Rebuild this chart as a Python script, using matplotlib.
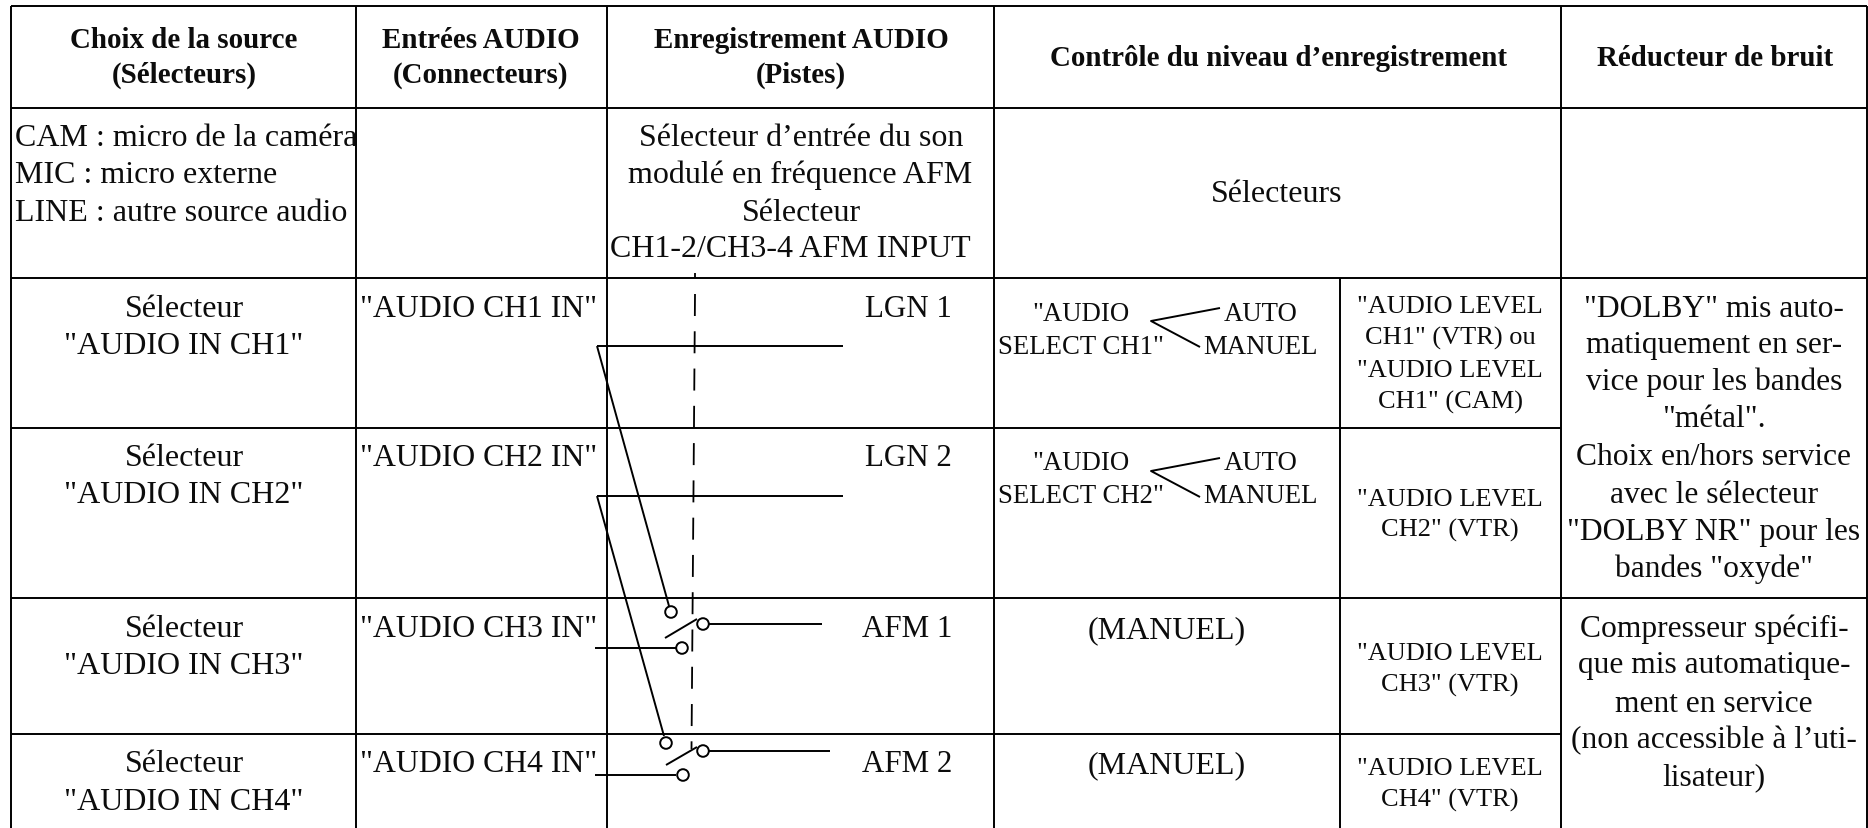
import matplotlib
matplotlib.use("Agg")
import matplotlib.pyplot as plt
from matplotlib.patches import Circle

plt.rcParams['font.family'] = ['Liberation Serif', 'DejaVu Serif']
plt.rcParams['lines.scale_dashes'] = False

# ---- text content
headers = [["Choix de la source", "(Sélecteurs)"], ["Entrées AUDIO", "(Connecteurs)"],
           ["Enregistrement AUDIO", "(Pistes)"], ["Contrôle du niveau d’enregistrement"],
           ["Réducteur de bruit"]]
source_notes = ["CAM : micro de la caméra", "MIC : micro externe", "LINE : autre source audio"]
afm_selector = ["Sélecteur d’entrée du son", "modulé en fréquence AFM", "Sélecteur", "CH1-2/CH3-4 AFM INPUT"]
selectors_label = "Sélecteurs"
source_selectors = [['Sélecteur', '"AUDIO IN CH1"'], ['Sélecteur', '"AUDIO IN CH2"'],
                    ['Sélecteur', '"AUDIO IN CH3"'], ['Sélecteur', '"AUDIO IN CH4"']]
connectors = ['"AUDIO CH1 IN"', '"AUDIO CH2 IN"', '"AUDIO CH3 IN"', '"AUDIO CH4 IN"']
tracks = ["LGN 1", "LGN 2", "AFM 1", "AFM 2"]
levels = [['"AUDIO LEVEL', 'CH1" (VTR) ou', '"AUDIO LEVEL', 'CH1" (CAM)'],
          ['"AUDIO LEVEL', 'CH2" (VTR)'], ['"AUDIO LEVEL', 'CH3" (VTR)'], ['"AUDIO LEVEL', 'CH4" (VTR)']]
select_labels = [['"AUDIO', 'SELECT CH1"'], ['"AUDIO', 'SELECT CH2"']]
auto_manuel = ["AUTO", "MANUEL"]
manual = "(MANUEL)"
nr_text = [['"DOLBY" mis auto-', 'matiquement en ser-', 'vice pour les bandes', '"métal".',
            'Choix en/hors service', 'avec le sélecteur', '"DOLBY NR" pour les', 'bandes "oxyde"'],
           ['Compresseur spécifi-', 'que mis automatique-', 'ment en service',
            '(non accessible à l’uti-', 'lisateur)']]

# ---- layout (pixels of the figure)
W, H = 1868, 829
X = [11, 356, 607, 994, 1340, 1561, 1867]
Y = [7, 108.5, 278.5, 429, 599, 735]
FS = 23
INK = '#0c0c0c'

fig = plt.figure(figsize=(W/100, H/100), dpi=100, facecolor='white')
ax = fig.add_axes([0, 0, 1, 1])
ax.set_xlim(0, W); ax.set_ylim(H, 0); ax.axis('off')

def L(xs, ys, lw=1.4, **k):
    ax.plot(xs, ys, color='black', lw=lw, solid_capstyle='butt', **k)

def T(x, y, s, ha='center', weight='normal', size=FS):
    ax.text(x, y, s, ha=ha, va='baseline', fontsize=size, weight=weight, color=INK)

def TL(x, ys, lines, **k):
    for y, s in zip(ys, lines):
        T(x, y, s, **k)

# grid
for y in [Y[0], Y[1], Y[2], Y[4]]:
    L([X[0], X[-1]], [y, y])
for y in [Y[3], Y[5]]:
    L([X[0], X[5]], [y, y])
for x in X[:4] + [X[5], X[6]]:
    L([x, x], [Y[0], H])
L([X[4], X[4]], [Y[2], H])

# headers
hy = [[48, 83], [48, 83], [48, 83], [66], [66]]
for x, ys, s in zip([184, 481, 801, 1278, 1715], hy, headers):
    TL(x, ys, s, weight='bold', size=20.9)

TL(15, [146, 183, 221], source_notes, ha='left')
for x, y, s in zip([801, 800, 801, 790], [146, 183, 221, 257], afm_selector):
    T(x, y, s)
T(1277, 202, selectors_label)

for ys, a in zip([[317, 354], [466, 503], [637, 674], [772, 810]], source_selectors):
    TL(184, ys, a)
for y, c in zip([317, 466, 637, 772], connectors):
    T(360, y, c, ha='left', size=22.9)
for x, y, t in zip([908, 908, 907, 907], [317, 466, 637, 772], tracks):
    T(x, y, t, size=22.3)
for ys, s in zip([[313, 345, 377, 409], [506, 537], [660, 692], [775, 807]], levels):
    TL(1450, ys, s, size=19)
for ys, s in zip([[321, 354], [470, 503]], select_labels):
    T(1081, ys[0], s[0], size=19.3)
    T(1081, ys[1], s[1], size=19.3)
    TL(1261, ys, auto_manuel, size=19.3)
for y in [638, 773]:
    T(1167, y, manual)
TL(1714, [317, 353, 390, 427, 465, 503, 540, 577], nr_text[0], size=22.7)
TL(1714, [637, 673, 712, 748, 785], nr_text[1], size=22.7)

# AFM selector dashed link
L([695, 695], [274, 279], lw=1.3)
ax.plot([695, 691.5], [295, 750], color='black', lw=1.3, dashes=(15.84, 11.0), dash_capstyle='butt')

# track wires
L([597, 843], [347, 347]); L([597, 843], [497, 497])
L([597, 669], [347, 607]); L([597, 664], [497, 737])
L([595, 676], [649, 649]); L([595, 676], [776, 776])
L([708, 822], [625, 625]); L([708, 830], [752, 752])
# switch arms
L([665, 697], [639, 620]); L([666, 697], [766, 748])
for cx, cy in [(671, 613), (682, 649), (703, 625), (666, 744), (683, 776), (703, 752)]:
    ax.add_patch(Circle((cx, cy), 5.8, fc='white', ec='black', lw=1.4, zorder=5))

# AUTO / MANUEL brackets
for y in [322, 472]:
    L([1220, 1151, 1200], [y - 13, y, y + 26], lw=1.4)

fig.savefig('out.png', dpi=100)
